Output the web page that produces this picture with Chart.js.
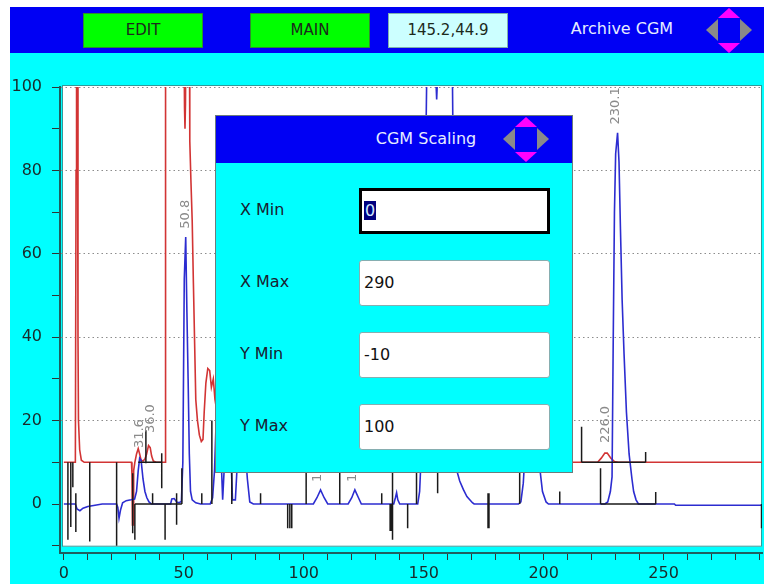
<!DOCTYPE html>
<html>
<head>
<meta charset="utf-8">
<title>Archive CGM</title>
<script src="https://cdn.jsdelivr.net/npm/chart.js@4.4.1/dist/chart.umd.min.js"></script>
<style>
  html, body { margin: 0; padding: 0; }
  body { width: 764px; height: 584px; position: relative; overflow: hidden; background: #fff; font-family: "DejaVu Sans", sans-serif; }
  #screen { position: absolute; left: 10px; top: 7px; width: 754px; height: 577px; background: #00ffff; }
  #topbar { position: absolute; left: 10px; top: 7px; width: 754px; height: 46px; background: #0000f4; }
  .btn { position: absolute; top: 13px; width: 120px; height: 35px; box-sizing: border-box; border: 1px solid #2e8c2e;
         background: #00ff00; color: #1c2a1c; font-size: 15px; line-height: 33px; text-align: center; }
  #coords { background: #ccffff; border-color: #7fb0b0; }
  #archive { position: absolute; left: 562px; top: 19px; width: 120px; text-align: center; color: #e6ecff; font-size: 16px; }
  .nav { position: absolute; }
  #cv { position: absolute; left: 0; top: 56px; }
  #dialog { position: absolute; left: 215px; top: 115px; width: 358px; height: 358px; box-sizing: border-box;
            border: 1px solid #6c7c7c; background: #00ffff; }
  #dlgHead { position: absolute; left: 0; top: 0; width: 356px; height: 47px; background: #0000f4; }
  #dlgTitle { position: absolute; left: 140px; top: 13px; width: 140px; text-align: center; color: #e6ecff; font-size: 16px; }
  .lbl { position: absolute; left: 24px; font-size: 16px; color: #1a2030; }
  .fld { position: absolute; left: 143px; width: 191px; height: 46px; box-sizing: border-box; background: #fff;
         border: 1px solid #86aeb0; border-radius: 3px; font-size: 16px; line-height: 44px; padding-left: 4px; color: #111; }
  #fld0 { border: 3px solid #000; border-radius: 0; line-height: 40px; padding-left: 2px; }
  #fld0 span { background: #000080; color: #cfe8ff; padding: 0 1px; }
</style>
</head>
<body>
<div id="screen"></div>
<div id="topbar"></div>
<div class="btn" style="left:83px">EDIT</div>
<div class="btn" style="left:250px">MAIN</div>
<div class="btn" id="coords" style="left:388px">145.2,44.9</div>
<div id="archive">Archive CGM</div>
<svg class="nav" style="left:706px;top:7px" width="46" height="47" viewBox="0 0 46 47">
  <polygon points="23,1 12,11 34,11" fill="#ff00ff"/>
  <polygon points="23,46 12,36 34,36" fill="#ff00ff"/>
  <polygon points="0,23 12,12 12,34" fill="#8a8a8a"/>
  <polygon points="46,23 34,12 34,34" fill="#8a8a8a"/>
</svg>

<canvas id="cv" width="764" height="528"></canvas>

<div id="dialog">
  <div id="dlgHead"></div>
  <div id="dlgTitle">CGM Scaling</div>
  <svg class="nav" style="left:287px;top:0" width="46" height="47" viewBox="0 0 46 47">
    <polygon points="23,1 12,11 34,11" fill="#ff00ff"/>
    <polygon points="23,46 12,36 34,36" fill="#ff00ff"/>
    <polygon points="0,23 12,12 12,34" fill="#8a8a8a"/>
    <polygon points="46,23 34,12 34,34" fill="#8a8a8a"/>
  </svg>
  <div class="lbl" style="top:84px">X Min</div>
  <div class="fld" id="fld0" style="top:72px"><span>0</span></div>
  <div class="lbl" style="top:156px">X Max</div>
  <div class="fld" style="top:144px">290</div>
  <div class="lbl" style="top:228px">Y Min</div>
  <div class="fld" style="top:216px">-10</div>
  <div class="lbl" style="top:300px">Y Max</div>
  <div class="fld" style="top:288px">100</div>
</div>

<script>
// axis ticks
const xTicks = [0, 10, 20, 30, 40, 50, 60, 70, 80, 90, 100, 110, 120, 130, 140, 150, 160, 170, 180, 190, 200, 210, 220, 230, 240, 250, 260, 270, 280, 290];
const yTicks = [-10, -5, 0, 5, 10, 15, 20, 25, 30, 35, 40, 45, 50, 55, 60, 65, 70, 75, 80, 85, 90, 95, 100];

// blue trace (detector A)
const blueTime = [0, 4.8, 5.5, 6.7, 8, 10, 13, 16, 22, 22.5, 23, 23.6, 24.5, 26, 28, 29.5, 30.3, 31, 31.6, 32.2, 33, 33.8, 34.6, 35.5, 36.5,
  44.5, 45, 46, 47, 48, 49, 49.6, 50.2, 50.8, 51.3, 51.8, 52.3, 52.8, 53.5, 55, 57,
  61, 62, 62.8, 63.5, 64.5, 65.5, 66.2, 66.8, 67.5, 68.5, 69.5, 70.3, 71.5, 72.5, 73.5, 75, 76.5, 77.5, 79,
  104, 105.5, 107, 108.5, 110, 118.5, 120, 121.3, 122.8, 124, 137.5, 138.2, 138.7, 139.2, 140,
  147.5, 148.3, 149.2, 150.3, 151.2, 152.5, 154, 155.2, 155.4, 155.6, 158, 161, 162, 163, 163.8, 165, 166.5, 168, 170.3, 171,
  189.5, 190.5, 191.5, 192.5, 194, 195.5, 197, 198.5, 199.5, 201, 202,
  225.5, 226.7, 227.8, 228.5, 229, 229.5, 230, 230.8, 231.4, 232, 232.7, 233.5, 234.5, 235.6, 236.8, 237.5, 238.5, 239.5,
  254.5, 255, 291];
const blueSignal = [0, 0, -1.2, -1.6, -1.0, -0.6, -0.3, 0, 0, -0.8, -3.4, -1.5, 0.3, 0.8, 1.0, 1.2, 3, 8, 11, 10.5, 6, 3, 1.5, 0.5, 0,
  0, 1.2, 1.3, 0.5, 0.3, 0.6, 10, 54, 64, 46, 30, 12, 3, 1, 0.3, 0,
  0, 1.5, 8, 20, 30, 12, 1, 8, 25, 35, 14, 1, 1, 12, 22, 18, 6, 0.5, 0,
  0, 1.5, 3.4, 1.5, 0, 0, 1.5, 3.4, 1.5, 0, 0, 1.5, 2.7, 1, 0,
  0, 3, 15, 60, 100, 130, 120, 100, 97, 100, 140, 115, 100, 40, 8, 5.5, 3.5, 1.8, 0.3, 0,
  0, 0.5, 5, 15, 22, 24, 18, 8, 3, 0.5, 0,
  0, 0.5, 3, 6.5, 40, 70, 84, 89, 82, 66, 49, 36, 22, 12, 6, 3, 1, 0,
  0, -0.3, -0.3];

// red trace (detector B)
const redTime = [0, 4.8, 5.1, 5.3, 5.6, 5.9, 6.1, 6.6, 7.3, 8.5,
  28.2, 28.4, 28.6, 28.9, 29.1, 29.6, 30.3, 31, 31.6, 32.2, 33, 33.8, 34.5, 35.3, 36, 36.6, 37.3, 38.5,
  42.2, 42.4, 50, 50.3, 50.5, 50.7, 51, 52.3, 52.5, 53, 53.5, 54, 55, 55.7, 56.5, 57.3, 58, 58.5, 59.2, 60, 60.8, 61.5, 62.3,
  63, 65, 68, 72, 80, 222.5, 224, 225.5, 226.5, 228, 229.5, 231, 291];
const redSignal = [10, 10, 80, 120, 120, 40, 20, 13, 10.5, 10,
  10, 7, -5, -5, 8, 10, 12, 13.3, 12, 10.5, 10.3, 10.8, 12, 14, 13.5, 11.5, 10.3, 10,
  10, 120, 120, 95, 90, 96, 120, 120, 87, 77, 68, 53, 25, 20, 16.5, 15, 15.5, 22, 29, 32.5, 32, 28, 30,
  25, 18, 13, 11, 10, 10, 11, 12.2, 12.2, 11, 10.2, 10, 10];

// integration marks: vertical ticks
const markTime = [1.7, 2.9, 3.75, 5.0, 10.8, 22.0, 28.7, 29.6, 34.2, 37.0, 40.8, 42.2, 47.0, 49.2, 57.5, 61.7, 70.0, 82.0,
  93.3, 94.2, 95.0, 101.0, 115.0, 132.5, 136.0, 136.4, 137.0, 143.3, 147.0, 155.8, 176.8, 177.0, 177.2, 190.0, 206.7,
  215.8, 223.7, 242.5, 246.7, 290.8];
const markTop = [10, 10, 10, 2.6, 10, 10, 7.4, 0, 17.7, 2.6, 12.2, 0, 2.6, 8.6, 2.6, 20, 15, 2.6,
  0, 0, 0, 12, 12, 2.6, 0, 0, 7.5, 0, 12, 7.5, 2.6, 2.6, 2.6, 12, 3,
  18.5, 8.6, 12.5, 2.9, 0];
const markBottom = [-8.6, -5.5, 4, -6.7, -9, -10, -7, -8.6, 9.8, 0, 3.8, -8.6, -5, 0, 0, 0, 0, 0,
  -5.8, -5.8, -5.8, 0, 0, 0, -6.5, -6.5, -8.6, -5.8, 0, 2.6, -5.8, -5.8, -5.8, 0, 0,
  10, 0, 10, 0, -5.8];

// integration baselines
const baseFrom = [31.0, 29.6, 215.8, 223.7];
const baseTo = [41.0, 49.2, 242.5, 246.7];
const baseLevel = [10, 0, 10, 0];

// peak labels (retention times)
const peakTime = [31.6, 36.0, 50.8, 105.6, 120.4, 226.0, 230.1];
const peakLabelAt = [13.4, 17, 66, 5.3, 5.3, 14.6, 91];

const toPoints = (xs, ys) => xs.map((x, i) => ({ x: x, y: ys[i] }));

const markPoints = [];
markTime.forEach((t, i) => {
  markPoints.push({ x: t, y: markTop[i] }, { x: t, y: markBottom[i] }, { x: t, y: null });
});
baseFrom.forEach((t, i) => {
  markPoints.push({ x: t, y: baseLevel[i] }, { x: baseTo[i], y: baseLevel[i] }, { x: baseTo[i], y: null });
});

// white plot background inside the frame
const plotBackground = {
  id: 'plotBackground',
  beforeDraw(chart) {
    const { ctx, chartArea, scales } = chart;
    const bottom = scales.y.getPixelForValue(-10) + 1;
    ctx.save();
    ctx.fillStyle = '#ffffff';
    ctx.fillRect(chartArea.left + 3, chartArea.top - 1, chartArea.right - chartArea.left - 3, bottom - chartArea.top + 1);
    ctx.strokeStyle = '#2f9a9a';
    ctx.lineWidth = 1;
    ctx.strokeRect(chartArea.left + 2.5, chartArea.top - 1.5, chartArea.right - chartArea.left - 3, bottom - chartArea.top + 1);
    ctx.restore();
  }
};

// rotated retention time labels
const peakLabels = {
  id: 'peakLabels',
  afterDatasetsDraw(chart) {
    const { ctx, scales } = chart;
    ctx.save();
    ctx.font = '13px "DejaVu Sans"';
    ctx.fillStyle = '#8a8a8a';
    ctx.textAlign = 'left';
    ctx.textBaseline = 'middle';
    peakTime.forEach((t, i) => {
      ctx.save();
      ctx.translate(scales.x.getPixelForValue(t), scales.y.getPixelForValue(peakLabelAt[i]));
      ctx.rotate(-Math.PI / 2);
      ctx.fillText(t.toFixed(1), 0, 0);
      ctx.restore();
    });
    ctx.restore();
  }
};

new Chart(document.getElementById('cv'), {
  type: 'line',
  data: {
    datasets: [
      { label: 'marks', data: markPoints, borderColor: '#1a1a1a', borderWidth: 1.5, order: 0 },
      { label: 'A', data: toPoints(blueTime, blueSignal), borderColor: '#2c2cd0', borderWidth: 1.6, order: 1 },
      { label: 'B', data: toPoints(redTime, redSignal), borderColor: '#d23434', borderWidth: 1.6, order: 2 }
    ]
  },
  options: {
    responsive: false,
    animation: false,
    spanGaps: false,
    layout: { padding: { top: 31, left: 0, right: 2, bottom: 0 } },
    elements: { point: { radius: 0 }, line: { tension: 0 } },
    plugins: { legend: { display: false }, tooltip: { enabled: false } },
    scales: {
      x: {
        type: 'linear',
        min: -1.6,
        max: 291,
        afterBuildTicks: s => { s.ticks = xTicks.map(v => ({ value: v })); },
        afterFit: s => { s.height = 31; s.paddingLeft = 0; s.paddingRight = 0; },
        border: { color: '#1f5f5f', width: 2 },
        grid: { drawOnChartArea: false, tickLength: 7, tickColor: '#333' },
        ticks: {
          autoSkip: false, maxRotation: 0, padding: 4, color: '#1a2a2a',
          font: { family: 'DejaVu Sans', size: 16 },
          callback: v => (v % 50 === 0 ? String(v) : '')
        }
      },
      y: {
        min: -11.75,
        max: 100,
        afterBuildTicks: s => { s.ticks = yTicks.map(v => ({ value: v })); },
        afterFit: s => { s.width = 60; s.paddingTop = 0; s.paddingBottom = 0; },
        border: { color: '#1f5f5f', width: 2, dash: [1.5, 3] },
        grid: {
          tickLength: 8, tickColor: '#333',
          color: c => (c.tick && c.tick.value % 20 === 0 && c.tick.value > 0 ? '#8c8c8c' : 'rgba(0,0,0,0)')
        },
        ticks: {
          padding: 10, color: '#1a2a2a',
          font: { family: 'DejaVu Sans', size: 16 },
          callback: v => (v % 20 === 0 && v >= 0 ? String(v) : '')
        }
      }
    }
  },
  plugins: [plotBackground, peakLabels]
});
</script>
</body>
</html>
